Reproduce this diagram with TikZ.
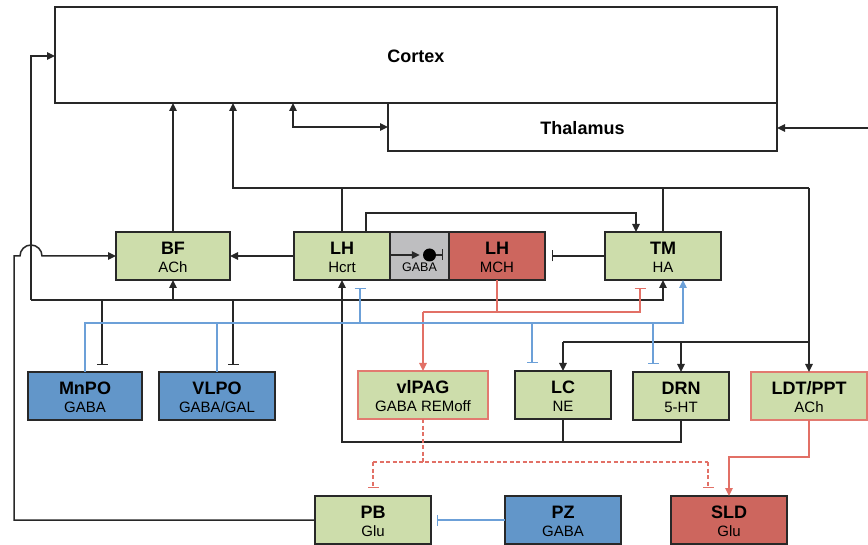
\documentclass[tikz,border=0pt]{standalone}
\usepackage{fontspec}
\setmainfont{Liberation Sans}
\usetikzlibrary{arrows.meta}
\definecolor{gfill}{RGB}{205,221,171}
\definecolor{bfill}{RGB}{98,150,201}
\definecolor{rfill}{RGB}{205,102,94}
\definecolor{gyfill}{RGB}{190,190,192}
\definecolor{rbord}{RGB}{226,122,112}
\definecolor{redline}{RGB}{226,112,102}
\definecolor{blueline}{RGB}{108,160,216}
\definecolor{dk}{RGB}{40,40,40}
\tikzset{
  box/.style={draw=dk,line width=1.5pt,inner sep=0pt,outer sep=0pt,rectangle},
  ttl/.style={anchor=base,inner sep=0pt,font=\fontsize{18}{20}\selectfont\bfseries},
  sbt/.style={anchor=base,inner sep=0pt,font=\fontsize{15}{17}\selectfont},
  blk/.style={draw=dk,line width=1.5pt},
  redc/.style={draw=redline,line width=1.5pt},
  bluec/.style={draw=blueline,line width=1.5pt},
  ar/.style={-{Triangle[length=8pt,width=7.5pt]}},
  arboth/.style={{Triangle[length=8pt,width=7.5pt]}-{Triangle[length=8pt,width=7.5pt]}},
  tbar/.style={-{Bar[width=11pt,line width=1.3pt]}},
  dsh/.style={dash pattern=on 4pt off 2.5pt}
}
\newcommand\nbox[8]{%
  \node[box,#6,minimum width={#4-#2},minimum height={#5-#3}] (#1) at ({(#2+#4)/2},{(#3+#5)/2}) {};
  \node[ttl] at ([yshift=1.5pt]#1.center) {#7};
  \node[sbt] at ([yshift=-16.5pt]#1.center) {#8};
}
\begin{document}
\begin{tikzpicture}[x=1pt,y=-1pt]
\useasboundingbox (0,0) rectangle (868,545);
% big boxes
\node[box,fill=white,minimum width=722,minimum height=96] (cortex) at (416,55) {};
\node[ttl] at (416,63) {Cortex};
\node[box,fill=white,minimum width=389,minimum height=48] (thal) at (582.5,127) {};
\node[ttl] at (582.5,134.5) {Thalamus};
% boxes
\nbox{bf}{116}{232}{230}{280}{fill=gfill}{BF}{ACh}
\nbox{lhh}{294}{232}{390}{280}{fill=gfill}{LH}{Hcrt}
\node[box,fill=gyfill,minimum width=59,minimum height=48] (gaba) at (419.5,256) {};
\nbox{mch}{449}{232}{545}{280}{fill=rfill}{LH}{MCH}
\nbox{tm}{605}{232}{721}{280}{fill=gfill}{TM}{HA}
\nbox{mnpo}{28}{372}{142}{420}{fill=bfill}{MnPO}{GABA}
\nbox{vlpo}{159}{372}{275}{420}{fill=bfill}{VLPO}{GABA/GAL}
\nbox{vlpag}{358}{371}{488}{419}{fill=gfill,draw=rbord}{vlPAG}{GABA REMoff}
\nbox{lc}{515}{371}{611}{419}{fill=gfill}{LC}{NE}
\nbox{drn}{633}{372}{729}{420}{fill=gfill}{DRN}{5-HT}
\nbox{ldt}{751}{372}{867}{420}{fill=gfill,draw=rbord}{LDT/PPT}{ACh}
\nbox{pb}{315}{496}{431}{544}{fill=gfill}{PB}{Glu}
\nbox{pz}{505}{496}{621}{544}{fill=bfill}{PZ}{GABA}
\nbox{sld}{671}{496}{787}{544}{fill=rfill}{SLD}{Glu}
% GABA interior
\node[anchor=base,inner sep=0pt,font=\fontsize{12.5}{12.5}\selectfont] at ([yshift=-16pt]gaba.center) {GABA};
\node[circle,fill=black,inner sep=0pt,minimum size=13pt] (dot) at (429.5,255) {};
\draw[blk,ar,shorten >=3pt] (gaba.west |- dot) -- (dot.west);
\draw[blk,tbar] (dot.east) -- ++(7,0);
% coordinates
\coordinate (hy) at (0,188);
\coordinate (cx2) at (233,188);
\coordinate (rx) at (809,188);
\coordinate (ct) at (293,127);
\coordinate (thin) at (868,128);
\coordinate (b0) at (31,300);
\coordinate (cl) at (31,56);
\coordinate (m1) at (102,300);
\coordinate (v1) at (233,300);
\coordinate (lp) at (342,442);
\coordinate (qy) at (0,342);
\coordinate (pl) at (14,0);
\coordinate (ry) at (0,312);
\coordinate (r2) at (640,312);
\coordinate (dy) at (0,462);
\coordinate (d1) at (373,462);
\coordinate (d2) at (708,462);
\coordinate (by) at (0,323);
\coordinate (b2) at (683,323);
\coordinate (b3) at (360,323);
\coordinate (b4) at (532,323);
\coordinate (b5) at (653,323);
% black connectors
\draw[blk,ar] (bf.north) -- (bf.north |- cortex.south);
\draw[blk] (lhh.north) -- (lhh.north |- hy);
\draw[blk,ar] (rx) -- (cx2) -- (cx2 |- cortex.south);
\draw[blk,ar] (rx) -- (rx |- ldt.north);
\draw[blk] (tm.north) -- (tm.north |- hy);
\draw[blk,arboth] (ct |- cortex.south) -- (ct) -- (ct -| thal.west);
\draw[blk,ar] (thin) -- (thin -| thal.east);
\draw[blk,ar] (b0) -- (cl) -- (cl -| cortex.west);
\draw[blk,ar] (b0) -- (b0 -| tm.south) -- (tm.south);
\draw[blk,ar] (b0 -| bf.south) -- (bf.south);
\draw[blk,tbar,shorten >=7pt] (m1) -- (m1 |- mnpo.north);
\draw[blk,tbar,shorten >=7pt] (v1) -- (v1 |- vlpo.north);
\draw[blk] (lc.south) -- (lc.south |- lp);
\draw[blk,ar] (drn.south) -- (drn.south |- lp) -- (lp) -- (lhh.south);
\draw[blk,ar] (lhh.west) -- (bf.east);
\draw[blk,ar] (pb.west) -- (pb.west -| pl) -- (pl |- bf.west) -- ++(6,0) arc[start angle=180,end angle=0,radius=11pt] -- (bf.west);
\draw[blk,ar] ([xshift=24pt]lhh.north) -- ++(0,-19) -| ([xshift=-27pt]tm.north);
\draw[blk,tbar,shorten >=7pt] (tm.west) -- (tm.west -| mch.east);
\draw[blk] (lc.north |- qy) -- (rx |- qy);
\draw[blk,ar] (lc.north |- qy) -- (lc.north);
\draw[blk,ar] (drn.north |- qy) -- (drn.north);
% red connectors
\draw[redc] (mch.south) -- (mch.south |- ry);
\draw[redc,ar] (vlpag.north |- ry) -- (vlpag.north);
\draw[redc,tbar,shorten >=8pt] (vlpag.north |- ry) -- (r2) -- (r2 |- tm.south);
\draw[redc,ar] (ldt.south) -- ++(0,37) -| (sld.north);
\draw[redc,dsh] (vlpag.south) -- (vlpag.south |- dy);
\draw[redc,dsh] (d1) -- (d2);
\draw[redc,dsh,tbar,shorten >=8pt] (d1) -- (d1 |- pb.north);
\draw[redc,dsh,tbar,shorten >=8pt] (d2) -- (d2 |- sld.north);
% blue connectors
\draw[bluec,ar] (mnpo.north) -- (mnpo.north |- by) -- (b2) -- (b2 |- tm.south);
\draw[bluec] (vlpo.north) -- (vlpo.north |- by);
\draw[bluec,tbar,shorten >=8pt] (b3) -- (b3 |- lhh.south);
\draw[bluec,tbar,shorten >=8pt] (b4) -- (b4 |- lc.north);
\draw[bluec,tbar,shorten >=8pt] (b5) -- (b5 |- drn.north);
\draw[bluec,tbar,shorten >=6pt] (pz.west) -- (pb.east);
\end{tikzpicture}
\end{document}
